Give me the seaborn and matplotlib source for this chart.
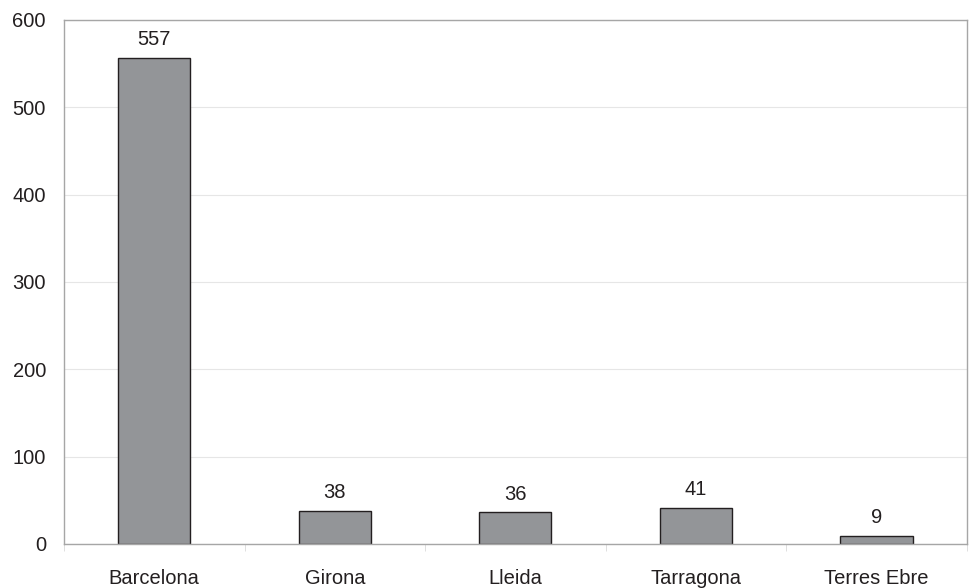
import matplotlib
matplotlib.use("Agg")
import matplotlib.pyplot as plt
import seaborn as sns
import numpy as np

regions = ["Barcelona", "Girona", "Lleida", "Tarragona", "Terres Ebre"]
counts = [557, 38, 36, 41, 9]
y_ticks = [0, 100, 200, 300, 400, 500, 600]

sns.set_style("white")
plt.rcParams['font.family'] = ['Liberation Sans', 'DejaVu Sans']

fig = plt.figure(figsize=(9.77, 5.88), dpi=100)
ax = fig.add_axes([0.0655, 0.075, 0.924, 0.891])

sns.barplot(x=regions, y=counts, color="#939598", edgecolor="#231f20",
            linewidth=1.0, width=0.4, saturation=1, ax=ax)

for i, v in enumerate(counts):
    ax.text(i, v + 10, str(v), ha="center", va="bottom", fontsize=14.5, color="#231f20")

ax.set_ylim(0, 600)
ax.set_xlim(-0.5, len(regions) - 0.5)
ax.set_yticks(y_ticks)
ax.yaxis.grid(True, color="#e6e6e6", linewidth=0.8)
ax.set_axisbelow(True)

ax.tick_params(axis="y", length=5, color="#bfbfbf", labelsize=14.5, labelcolor="#231f20", pad=8)
ax.tick_params(axis="x", length=0, labelsize=14.5, labelcolor="#231f20", pad=18)
ax.set_xticks(np.arange(-0.5, len(regions)), minor=True)
ax.tick_params(axis="x", which="minor", length=5, color="#d9d9d9", direction="out", bottom=True)

for s in ax.spines.values():
    s.set_color("#a6a6a6")
    s.set_linewidth(1.0)

fig.savefig("out.png", dpi=100)
